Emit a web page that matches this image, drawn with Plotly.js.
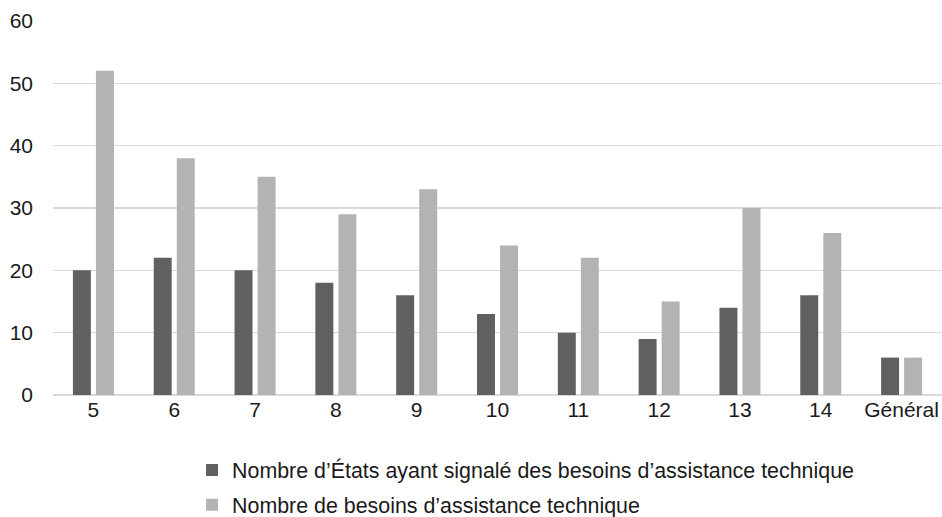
<!DOCTYPE html>
<html>
<head>
<meta charset="utf-8">
<script src="https://cdn.plot.ly/plotly-3.0.1.min.js"></script>
<style>
  html, body { margin: 0; padding: 0; background: #fff; }
  #chart { width: 942px; height: 517px; }
</style>
</head>
<body>
<div id="chart"></div>
<script>
// Categories along the x axis
const categories = ['5', '6', '7', '8', '9', '10', '11', '12', '13', '14', 'Général'];

// Series values
const etatsSignales = [20, 22, 20, 18, 16, 13, 10, 9, 14, 16, 6];
const besoinsTotal = [52, 38, 35, 29, 33, 24, 22, 15, 30, 26, 6];

// Series names
const seriesNames = [
  'Nombre d’États ayant signalé des besoins d’assistance technique',
  'Nombre de besoins d’assistance technique'
];

const traces = [
  {
    type: 'bar',
    x: categories,
    y: etatsSignales,
    name: seriesNames[0],
    legendgroup: 'a',
    marker: { color: '#606060' },
    hoverinfo: 'x+y'
  },
  {
    type: 'bar',
    x: categories,
    y: besoinsTotal,
    name: seriesNames[1],
    legendgroup: 'b',
    marker: { color: '#b3b3b3' },
    hoverinfo: 'x+y'
  }
];

const layout = {
  width: 942,
  height: 517,
  margin: { l: 53, r: 0, t: 21, b: 122, autoexpand: false },
  paper_bgcolor: '#ffffff',
  plot_bgcolor: '#ffffff',
  font: { family: 'Liberation Sans, Arial, sans-serif', size: 21, color: '#1a1a1a' },
  barmode: 'group',
  bargap: 0.43,
  bargroupgap: 0.22,
  xaxis: {
    type: 'category',
    showgrid: false,
    showline: false,
    zeroline: false,
    ticks: '',
    tickangle: 0,
    tickfont: { size: 21 }
  },
  yaxis: {
    range: [0, 60],
    dtick: 10,
    showgrid: true,
    gridcolor: '#d9d9d9',
    gridwidth: 1.5,
    zeroline: true,
    zerolinecolor: '#d9d9d9',
    zerolinewidth: 1.5,
    showline: false,
    ticks: '',
    ticklabelstandoff: 19,
    tickfont: { size: 21 }
  },
  showlegend: true,
  legend: {
    orientation: 'v',
    x: 0.1564,
    xanchor: 'left',
    y: -0.146,
    yanchor: 'top',
    traceorder: 'grouped',
    tracegroupgap: 4,
    font: { size: 21.4, color: '#1a1a1a' },
    bgcolor: 'rgba(0,0,0,0)'
  }
};

Plotly.newPlot('chart', traces, layout, { displayModeBar: false, staticPlot: true });
</script>
</body>
</html>
